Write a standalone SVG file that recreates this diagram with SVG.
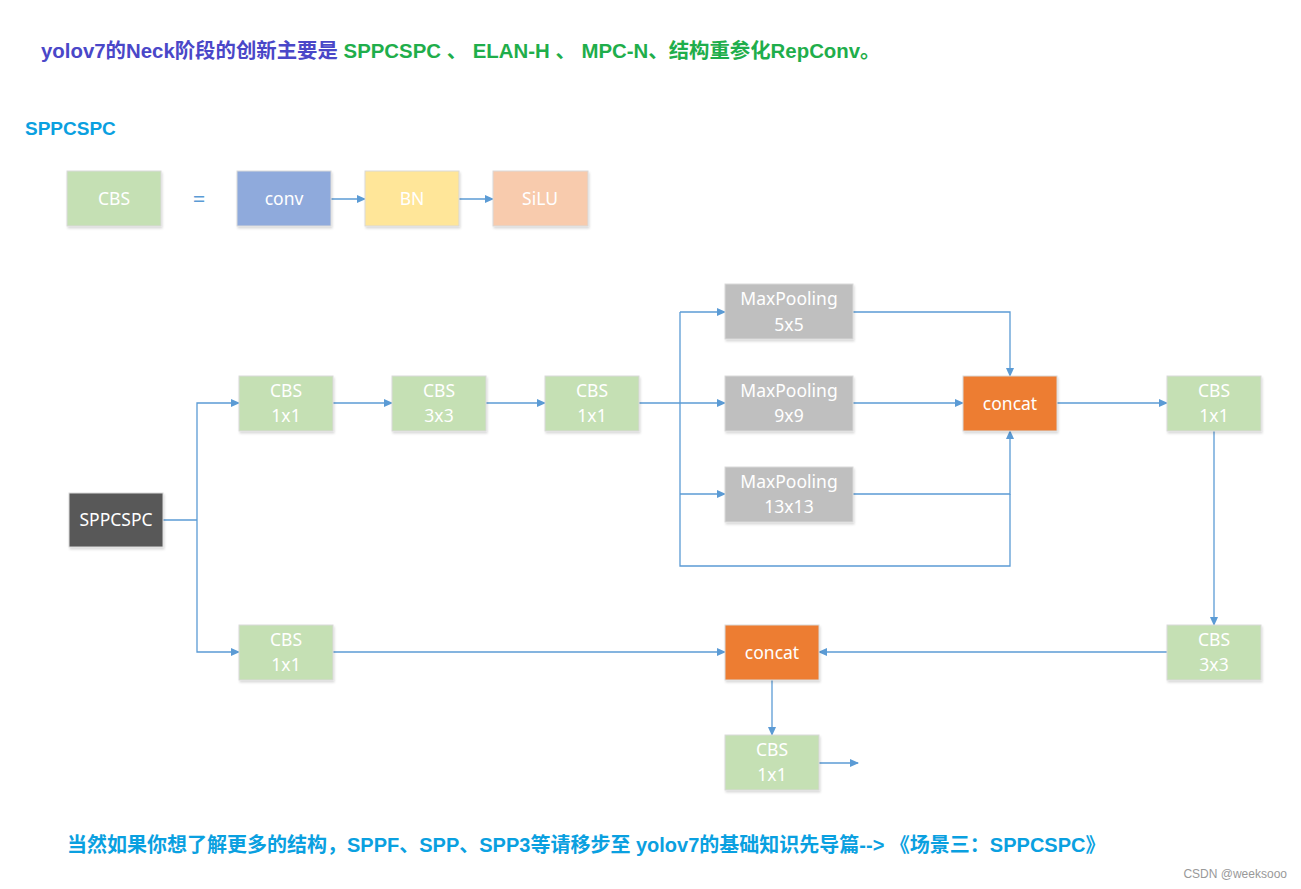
<svg xmlns="http://www.w3.org/2000/svg" width="1301" height="889" viewBox="0 0 1301 889">
<style>
.t{font-family:"Noto Sans","Open Sans",sans-serif;font-size:17.5px;fill:#ffffff;text-anchor:middle}
.box{stroke:#d9d9d9;stroke-width:1;filter:url(#sh)}
.ln{fill:none;stroke:#5b9bd5;stroke-width:1.3}
.ar{fill:none;stroke:#5b9bd5;stroke-width:1.3;marker-end:url(#ah)}
.hd{font-family:"Liberation Sans","Noto Sans CJK SC",sans-serif;font-weight:bold}
</style>
<defs>
<marker id="ah" markerWidth="10" markerHeight="10" refX="8" refY="4" orient="auto" markerUnits="userSpaceOnUse">
<path d="M0,0 L9,4 L0,8 z" fill="#5b9bd5"/>
</marker>
<filter id="sh" x="-10%" y="-10%" width="130%" height="130%">
<feDropShadow dx="1" dy="2" stdDeviation="1.2" flood-color="#000" flood-opacity="0.15"/>
</filter>
</defs>
<rect width="1301" height="889" fill="#ffffff"/>
<text class="hd" x="41" y="58" font-size="20.4"><tspan fill="#4a47c8">yolov7的Neck阶段的创新主要是 </tspan><tspan fill="#1fae4b">SPPCSPC 、 ELAN-H 、 MPC-N、结构重参化RepConv。</tspan></text>
<text class="hd" x="25" y="135" font-size="19" fill="#0aa0e0">SPPCSPC</text>

<g id="connectors">
<line class="ar" x1="331" y1="199" x2="365" y2="199"/>
<line class="ar" x1="459" y1="199" x2="493" y2="199"/>
<polyline class="ln" points="163,520 197,520"/>
<polyline class="ar" points="197,520 197,403 239,403"/>
<polyline class="ar" points="197,520 197,652 239,652"/>
<line class="ar" x1="333" y1="403" x2="392" y2="403"/>
<line class="ar" x1="486" y1="403" x2="545" y2="403"/>
<line class="ar" x1="639" y1="403" x2="725" y2="403"/>
<polyline class="ln" points="680,312 680,566 1010,566 1010,494"/>
<line class="ar" x1="680" y1="312" x2="725" y2="312"/>
<line class="ar" x1="680" y1="494" x2="725" y2="494"/>
<polyline class="ar" points="853,312 1010,312 1010,376"/>
<line class="ar" x1="853" y1="403" x2="963" y2="403"/>
<polyline class="ar" points="853,494 1010,494 1010,431"/>
<line class="ar" x1="1057" y1="403" x2="1167" y2="403"/>
<line class="ar" x1="1214" y1="431" x2="1214" y2="625"/>
<line class="ar" x1="1167" y1="652" x2="819" y2="652"/>
<line class="ar" x1="333" y1="652" x2="725" y2="652"/>
<line class="ar" x1="772" y1="680" x2="772" y2="735"/>
<line class="ar" x1="819" y1="763" x2="858" y2="763"/>
</g>

<g id="cbs-legend"><rect class="box" x="67" y="171" width="94" height="55" fill="#c5e0b4"/><text class="t" x="114" y="205">CBS</text></g>
<text x="199" y="207" font-family="Noto Sans,sans-serif" font-size="22" fill="#5b9bd5" text-anchor="middle">=</text>
<g id="conv"><rect class="box" x="237" y="171" width="94" height="55" fill="#8faadc"/><text class="t" x="284" y="205">conv</text></g>
<g id="bn"><rect class="box" x="365" y="171" width="94" height="55" fill="#ffe699"/><text class="t" x="412" y="205">BN</text></g>
<g id="silu"><rect class="box" x="493" y="171" width="95" height="55" fill="#f8cbad"/><text class="t" x="540" y="205">SiLU</text></g>

<g id="sppcspc"><rect class="box" x="69" y="493" width="94" height="54" fill="#595959"/><text class="t" x="116" y="526">SPPCSPC</text></g>
<g id="cbs1"><rect class="box" x="239" y="376" width="94" height="55" fill="#c5e0b4"/><text class="t" x="286" y="397">CBS</text><text class="t" x="286" y="422">1x1</text></g>
<g id="cbs2"><rect class="box" x="392" y="376" width="94" height="55" fill="#c5e0b4"/><text class="t" x="439" y="397">CBS</text><text class="t" x="439" y="422">3x3</text></g>
<g id="cbs3"><rect class="box" x="545" y="376" width="94" height="55" fill="#c5e0b4"/><text class="t" x="592" y="397">CBS</text><text class="t" x="592" y="422">1x1</text></g>
<g id="mp5"><rect class="box" x="725" y="284" width="128" height="55" fill="#bfbfbf"/><text class="t" x="789" y="305">MaxPooling</text><text class="t" x="789" y="331">5x5</text></g>
<g id="mp9"><rect class="box" x="725" y="376" width="128" height="55" fill="#bfbfbf"/><text class="t" x="789" y="397">MaxPooling</text><text class="t" x="789" y="422">9x9</text></g>
<g id="mp13"><rect class="box" x="725" y="467" width="128" height="55" fill="#bfbfbf"/><text class="t" x="789" y="488">MaxPooling</text><text class="t" x="789" y="513">13x13</text></g>
<g id="concat1"><rect class="box" x="963" y="376" width="94" height="55" fill="#ed7d31"/><text class="t" x="1010" y="410">concat</text></g>
<g id="cbs4"><rect class="box" x="1167" y="376" width="94" height="55" fill="#c5e0b4"/><text class="t" x="1214" y="397">CBS</text><text class="t" x="1214" y="422">1x1</text></g>
<g id="cbs5"><rect class="box" x="1167" y="625" width="94" height="55" fill="#c5e0b4"/><text class="t" x="1214" y="646">CBS</text><text class="t" x="1214" y="671">3x3</text></g>
<g id="cbs6"><rect class="box" x="239" y="625" width="94" height="55" fill="#c5e0b4"/><text class="t" x="286" y="646">CBS</text><text class="t" x="286" y="671">1x1</text></g>
<g id="concat2"><rect class="box" x="725" y="625" width="94" height="55" fill="#ed7d31"/><text class="t" x="772" y="659">concat</text></g>
<g id="cbs7"><rect class="box" x="725" y="735" width="94" height="55" fill="#c5e0b4"/><text class="t" x="772" y="756">CBS</text><text class="t" x="772" y="781">1x1</text></g>

<text class="hd" x="67" y="852" font-size="20" fill="#0aa0e0">当然如果你想了解更多的结构，SPPF、SPP、SPP3等请移步至 yolov7的基础知识先导篇--&gt; 《场景三：SPPCSPC》</text>
<text x="1287" y="878" font-family="Liberation Sans,sans-serif" font-size="12" fill="#999999" text-anchor="end">CSDN @weeksooo</text>
</svg>
